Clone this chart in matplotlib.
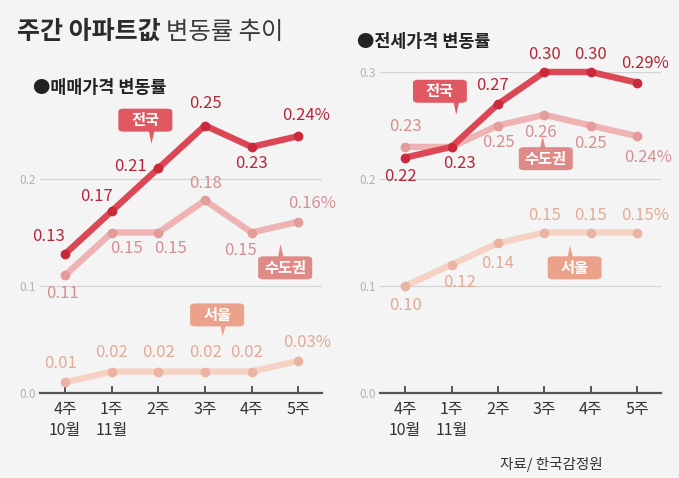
import matplotlib
matplotlib.use("Agg")
import matplotlib.pyplot as plt
from matplotlib.patches import FancyBboxPatch, Polygon

plt.rcParams['font.family'] = ['Noto Sans CJK KR', 'DejaVu Sans']

# ---------------------------
# Data
# ---------------------------
weeks = ["4주\n10월", "1주\n11월", "2주", "3주", "4주", "5주"]

sale_nation = [0.13, 0.17, 0.21, 0.25, 0.23, 0.24]
sale_metro = [0.11, 0.15, 0.15, 0.18, 0.15, 0.16]
sale_seoul = [0.01, 0.02, 0.02, 0.02, 0.02, 0.03]

jeonse_nation = [0.22, 0.23, 0.27, 0.30, 0.30, 0.29]
jeonse_metro = [0.23, 0.23, 0.25, 0.26, 0.25, 0.24]
jeonse_seoul = [0.10, 0.12, 0.14, 0.15, 0.15, 0.15]

# colours: line, dot, label text, box
C_NATION = ("#dc4755", "#c92a3b", "#b3283a", "#e05862")
C_METRO = ("#efb3b3", "#e39b9b", "#d49090", "#e08a88")
C_SEOUL = ("#f6d2c4", "#ebb4a2", "#e3aa96", "#eca28a")

BG = "#f4f4f4"

fig = plt.figure(figsize=(6.79, 4.78), dpi=100, facecolor=BG)

ax_l = fig.add_axes([40 / 679, 85 / 478, 282 / 679, 321 / 478])
ax_r = fig.add_axes([380 / 679, 85 / 478, 281 / 679, 321 / 478])

# box size in data units (about 54 x 23 px)
BOX_W = 1.16
BOX_H = 0.0215


def draw_series(ax, vals, colors, offsets, skip=()):
    line_c, dot_c, txt_c, _ = colors
    x = list(range(len(vals)))
    ax.plot(x, vals, color=line_c, lw=4.6, solid_capstyle='round',
            solid_joinstyle='round', zorder=3, clip_on=False)
    ax.plot(x, vals, 'o', color=dot_c, ms=6, zorder=4, clip_on=False)
    for i, (v, (dx, dy)) in enumerate(zip(vals, offsets)):
        if i in skip:
            continue
        s = f"{v:.2f}" + ("%" if i == len(vals) - 1 else "")
        ax.annotate(s, (i, v), xytext=(dx, dy), textcoords='offset pixels',
                    ha='center', va='center', color=txt_c, fontsize=12,
                    zorder=5, annotation_clip=False)


def tag(ax, text, center, tip, color):
    cx, cy = center
    tx, ty = tip
    box = FancyBboxPatch((cx - BOX_W / 2, cy - BOX_H / 2), BOX_W, BOX_H,
                         boxstyle='round,pad=0,rounding_size=0.12',
                         mutation_aspect=BOX_H / BOX_W * 1.2,
                         fc=color, ec='none', zorder=6, clip_on=False)
    ax.add_patch(box)
    # speech-bubble pointer: left edge vertical, right edge slanted
    ptr = Polygon([(tx - 0.10, cy), (tx + 0.12, cy), (tx, ty)], closed=True,
                  fc=color, ec='none', zorder=6, clip_on=False)
    ax.add_patch(ptr)
    ax.text(cx, cy, text, ha='center', va='center', color='white',
            fontsize=11, fontweight='bold', zorder=7)


def style_axis(ax, yticks):
    ax.set_facecolor(BG)
    ax.set_xlim(-0.54, 5.51)
    ax.set_ylim(0, 0.3)
    for s in ['top', 'right', 'left']:
        ax.spines[s].set_visible(False)
    ax.spines['bottom'].set_color('#555555')
    ax.spines['bottom'].set_linewidth(1.6)
    ax.set_xticks(range(len(weeks)))
    ax.set_xticklabels(weeks, fontsize=11.5, color='#333333', linespacing=1.25,
                       va='top')
    ax.tick_params(axis='x', direction='in', length=5, width=1.4,
                   color='#555555', pad=6)
    ax.set_yticks(yticks)
    ax.set_yticklabels([f"{t:.1f}" for t in yticks], fontsize=8.5,
                       color='#b3b3b3')
    ax.tick_params(axis='y', length=0, pad=3)
    for t in yticks[1:]:
        ax.axhline(t, color='#d4d4d4', lw=0.9, zorder=1)


# ---------------------------
# Left: sale prices
# ---------------------------
style_axis(ax_l, [0.0, 0.1, 0.2])
draw_series(ax_l, sale_seoul, C_SEOUL,
            [(-5, 19), (0, 19), (0, 19), (0, 19), (-5, 19), (9, 18)])
draw_series(ax_l, sale_metro, C_METRO,
            [(-3, -18), (15, -16), (12, -16), (0, 17), (-11, -18), (14, 18)])
draw_series(ax_l, sale_nation, C_NATION,
            [(-17, 17), (-15, 15), (-28, 2), (0, 22), (0, -17), (8, 21)])
tag(ax_l, "전국", (1.72, 0.255), (1.85, 0.233), C_NATION[3])
tag(ax_l, "수도권", (4.72, 0.117), (4.62, 0.139), C_METRO[3])
tag(ax_l, "서울", (3.26, 0.073), (3.38, 0.053), C_SEOUL[3])

# ---------------------------
# Right: jeonse prices
# ---------------------------
style_axis(ax_r, [0.0, 0.1, 0.2, 0.3])
draw_series(ax_r, jeonse_seoul, C_SEOUL,
            [(0, -19), (8, -18), (0, -20), (0, 17), (0, 17), (8, 17)])
draw_series(ax_r, jeonse_metro, C_METRO,
            [(0, 20), (0, 0), (0, -17), (-4, -18), (0, -18), (11, -21)],
            skip=(1,))
draw_series(ax_r, jeonse_nation, C_NATION,
            [(-5, -19), (8, -17), (-6, 19), (0, 18), (0, 18), (8, 19)])
tag(ax_r, "전국", (0.75, 0.282), (1.10, 0.260), C_NATION[3])
tag(ax_r, "수도권", (3.03, 0.219), (2.96, 0.240), C_METRO[3])
tag(ax_r, "서울", (3.65, 0.117), (3.55, 0.138), C_SEOUL[3])

# ---------------------------
# Titles and source
# ---------------------------
fig.text(17 / 679, 1 - 32 / 478, "주간 아파트값", fontsize=18, fontweight='bold',
         color='#2b2b2b', va='center', ha='left')
fig.text(166 / 679, 1 - 32 / 478, "변동률 추이", fontsize=17.5, fontweight='light',
         color='#3a3a3a', va='center', ha='left')
fig.text(33 / 679, 1 - 88 / 478, "●매매가격 변동률", fontsize=12.5,
         fontweight='bold', color='#222222', va='center', ha='left')
fig.text(357 / 679, 1 - 42 / 478, "●전세가격 변동률", fontsize=12.5,
         fontweight='bold', color='#222222', va='center', ha='left')
fig.text(500 / 679, 1 - 464 / 478, "자료/ 한국감정원", fontsize=10.5,
         color='#333333', va='center', ha='left')

fig.savefig("out.png", dpi=100, facecolor=BG)
